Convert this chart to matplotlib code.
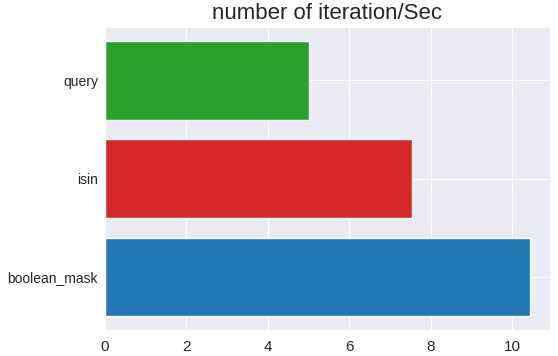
import matplotlib
matplotlib.use("Agg")
import matplotlib.pyplot as plt
import seaborn as sns

methods = ["boolean_mask", "isin", "query"]
iters_per_sec = [10.44, 7.54, 5.01]
colors = ["tab:blue", "tab:red", "tab:green"]

sns.set_style("darkgrid")
plt.rcParams["font.family"] = ["Liberation Sans", "DejaVu Sans"]

fig = plt.figure(figsize=(5.58, 3.56), dpi=100)
ax = fig.add_axes([0.188, 0.073, 0.798, 0.85])
ax.barh(methods, iters_per_sec, color=colors)
ax.set_xlim(0, 10.93)
ax.set_title("number of iteration/Sec", fontsize=16)
ax.tick_params(axis="x", labelsize=11)
ax.tick_params(axis="y", labelsize=10, pad=1.5)

fig.savefig("out.png", dpi=100)
